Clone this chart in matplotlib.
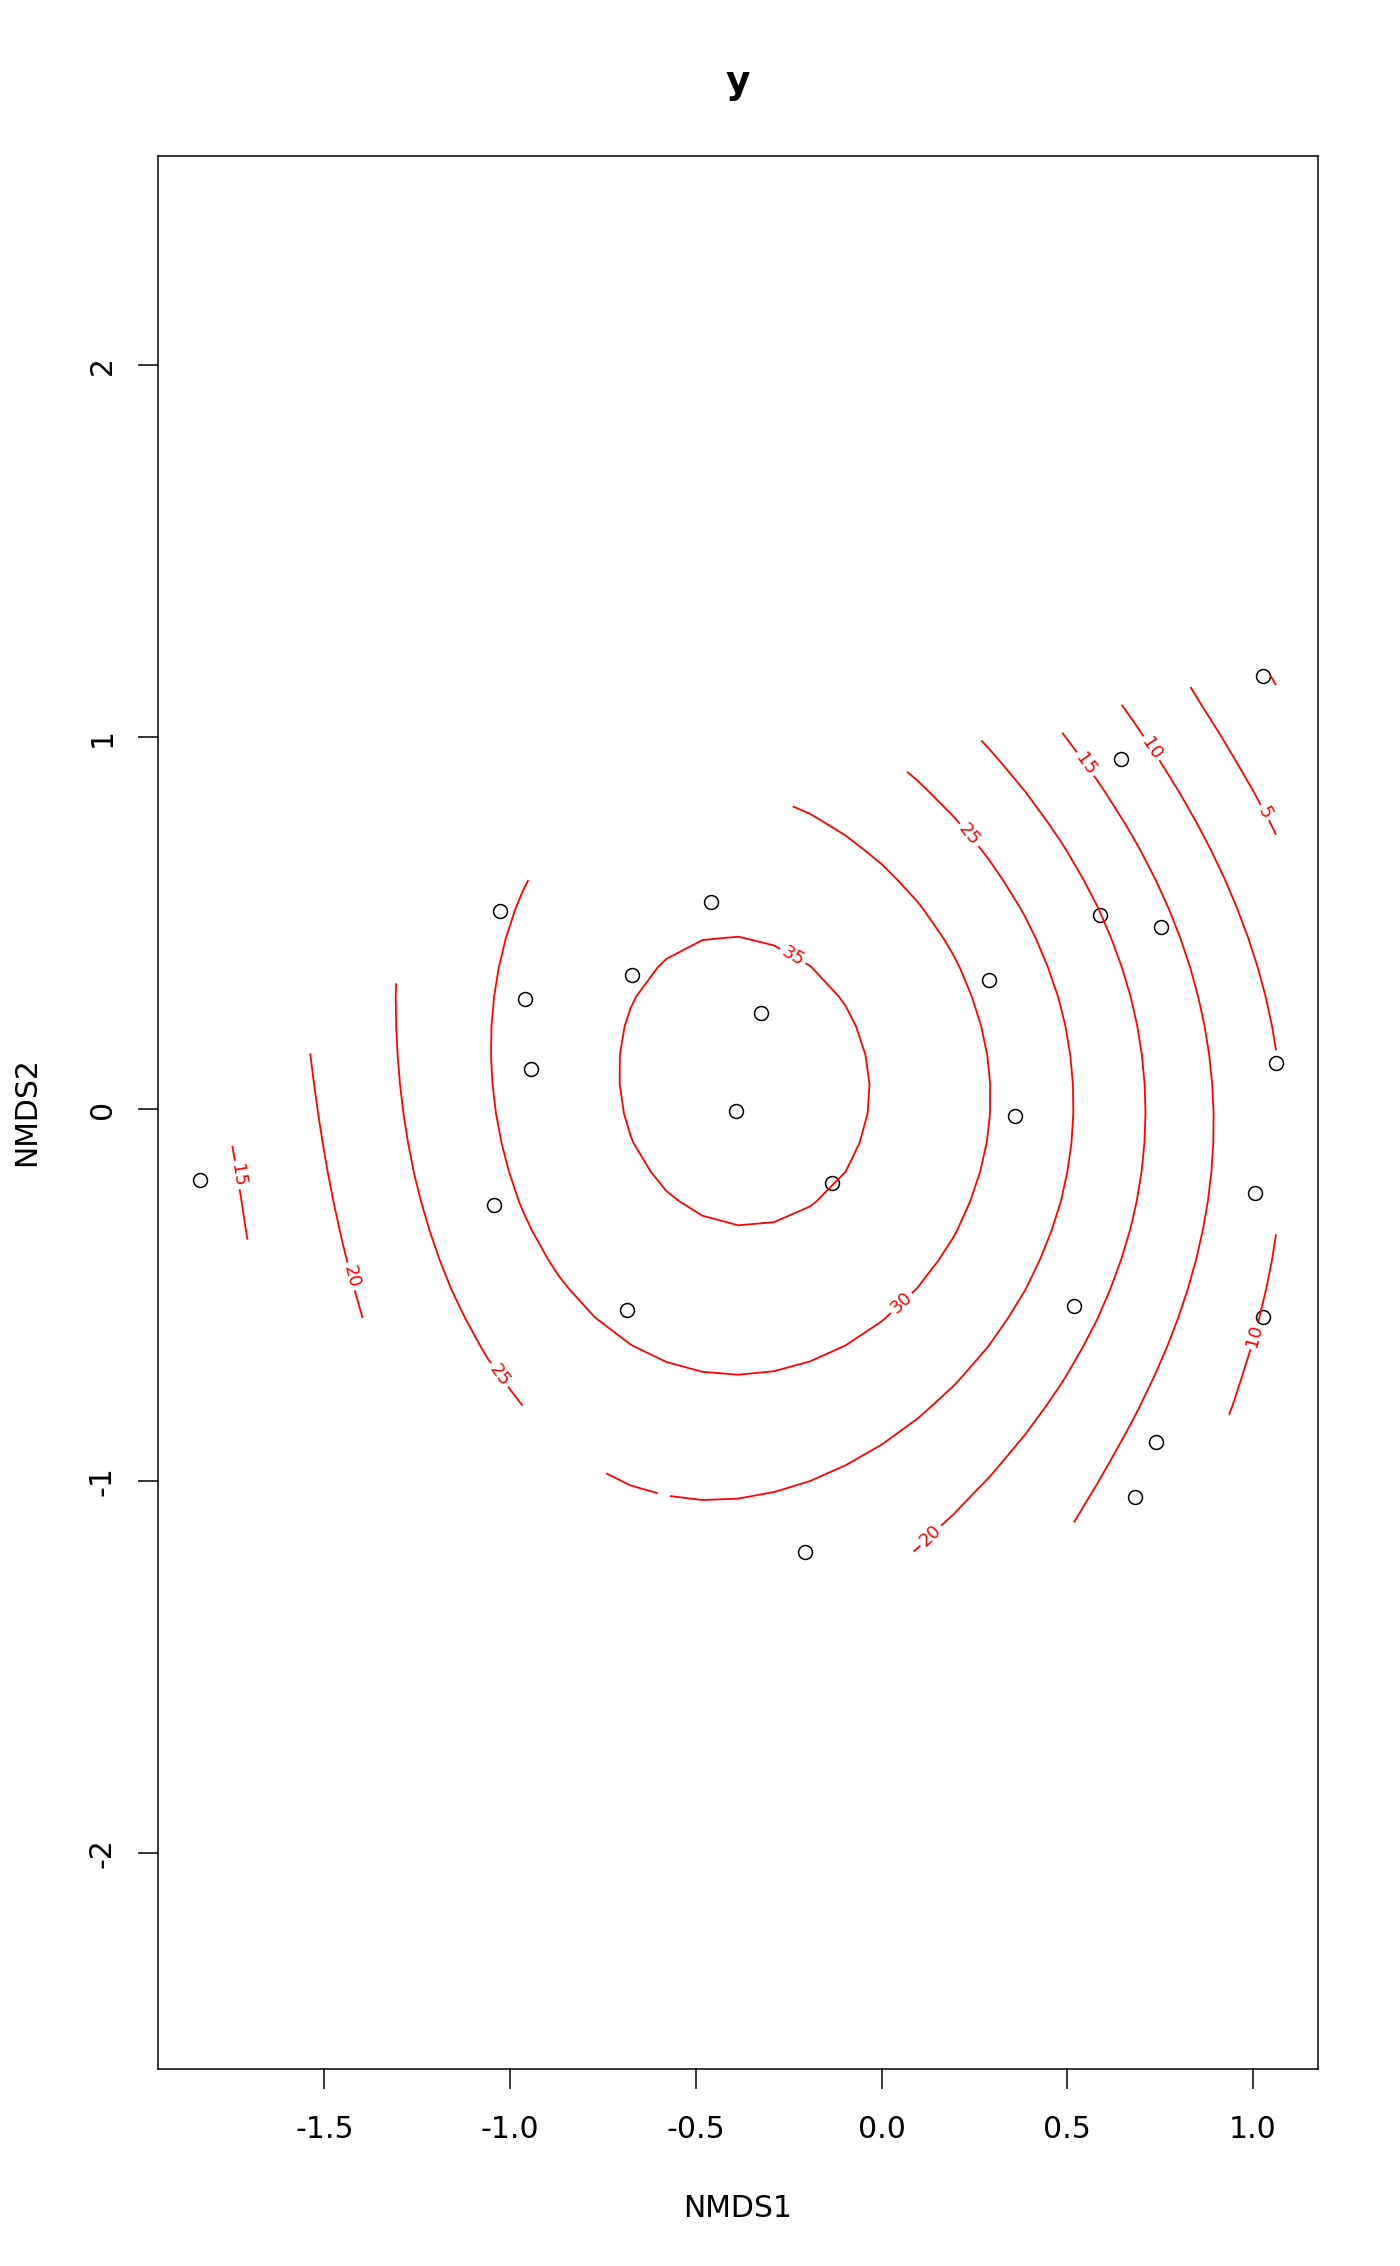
import numpy as np
import matplotlib
matplotlib.use('Agg')
import matplotlib.pyplot as plt

plt.rcParams['font.family'] = ['DejaVu Sans']

# site scores (NMDS1, NMDS2)
nmds1 = [1.027, 0.644, 0.589, 0.751, 1.062, 1.005, 1.028, 0.739, 0.683, 0.519, 0.359, 0.289,
         -0.133, -0.205, -0.393, -0.324, -0.460, -0.673, -0.961, -0.943, -1.026, -1.043, -0.685, -1.834]
nmds2 = [1.165, 0.941, 0.521, 0.490, 0.123, -0.227, -0.560, -0.896, -1.042, -0.531, -0.019, 0.347,
         -0.200, -1.190, -0.006, 0.259, 0.557, 0.361, 0.295, 0.107, 0.532, -0.259, -0.541, -0.192]

# points, one list per level
lev35 = [(-0.386, 0.477), (-0.480, 0.472), (-0.576, 0.424), (-0.673, 0.303), (-0.706, 0.140),
         (-0.689, -0.014), (-0.620, -0.158), (-0.480, -0.285), (-0.386, -0.314), (-0.192, -0.273),
         (-0.081, -0.177), (-0.020, -0.014), (-0.018, 0.063), (-0.028, 0.144), (-0.096, 0.303),
         (-0.192, 0.394), (-0.288, 0.456)]
lev30 = [(-0.942, 0.617), (-1.014, 0.466), (-1.043, 0.216), (-1.033, 0.005), (-0.966, -0.245),
         (-0.870, -0.441), (-0.774, -0.561), (-0.673, -0.638), (-0.578, -0.681), (-0.386, -0.710),
         (-0.197, -0.667), (0.015, -0.552), (0.145, -0.406), (0.199, -0.330), (0.238, -0.245),
         (0.267, -0.164), (0.293, -0.021), (0.297, 0.051), (0.289, 0.141), (0.272, 0.226),
         (0.245, 0.311), (0.194, 0.418), (0.101, 0.548), (-0.002, 0.653), (-0.095, 0.728),
         (-0.193, 0.786), (-0.244, 0.811)]
lev25 = [(0.067, 0.907), (0.096, 0.884), (0.203, 0.770), (0.268, 0.692), (0.331, 0.589),
         (0.409, 0.463), (0.448, 0.383), (0.473, 0.311), (0.495, 0.203), (0.509, 0.069),
         (0.507, -0.110), (0.489, -0.227), (0.458, -0.325), (0.385, -0.487), (0.292, -0.634),
         (0.194, -0.742), (0.101, -0.832), (-0.002, -0.908), (-0.095, -0.960), (-0.193, -1.002),
         (-0.290, -1.029), (-0.386, -1.045), (-0.480, -1.048), (-0.574, -1.038), (-0.673, -1.011),
         (-0.736, -0.982), (-1.311, 0.336), (-1.307, 0.159), (-1.287, -0.003), (-1.260, -0.155),
         (-1.215, -0.334), (-1.161, -0.487), (-1.062, -0.679), (-0.977, -0.796)]
lev20 = [(0.272, 0.994), (0.389, 0.849), (0.492, 0.696), (0.571, 0.553), (0.624, 0.445),
         (0.664, 0.338), (0.688, 0.221), (0.703, 0.069), (0.705, -0.110), (0.688, -0.245),
         (0.654, -0.397), (0.585, -0.567), (0.497, -0.720), (0.389, -0.881), (0.292, -0.997),
         (0.194, -1.096), (0.076, -1.190), (-1.544, 0.139), (-1.439, -0.404), (-1.404, -0.563)]
lev15 = [(0.492, 1.017), (0.580, 0.884), (0.683, 0.714), (0.770, 0.553), (0.820, 0.427),
         (0.859, 0.284), (0.881, 0.159), (0.891, -0.003), (0.891, -0.110), (0.877, -0.200),
         (0.849, -0.379), (0.801, -0.558), (0.732, -0.737), (0.644, -0.899), (0.512, -1.112),
         (-1.745, -0.097), (-1.701, -0.357)]
lev10 = [(0.658, 1.086), (0.757, 0.925), (0.879, 0.705), (0.967, 0.526), (1.016, 0.383),
         (1.045, 0.266), (1.062, 0.166), (1.063, -0.334), (1.026, -0.540), (0.987, -0.657),
         (0.928, -0.827)]
lev5 = [(0.836, 1.140), (1.011, 0.840), (1.062, 0.745)]
lev0 = [(1.035, 1.167), (1.062, 1.122)]
peak = (-0.362, 0.080, 36.9)

levels = [0, 5, 10, 15, 20, 25, 30, 35]
label_pos = [(-0.235, 0.418), (0.050, -0.518), (0.230, 0.732), (-1.036, -0.720),
             (-1.431, -0.451), (0.135, -1.150), (0.551, 0.929), (-1.731, -0.177),
             (0.727, 0.970), (1.000, -0.608), (1.028, 0.795)]


def basis(x, y):
    return np.column_stack([x ** i * y ** j for i in range(5) for j in range(5 - i)])


# smooth surface through the traced contour points
tx, ty, tz = [], [], []
for lev, pts in zip(levels, [lev0, lev5, lev10, lev15, lev20, lev25, lev30, lev35]):
    for px, py in pts:
        tx.append(px)
        ty.append(py)
        tz.append(lev)
tx.append(peak[0]); ty.append(peak[1]); tz.append(peak[2])
coef, *_ = np.linalg.lstsq(basis(np.array(tx), np.array(ty)), np.array(tz), rcond=None)

gx = np.linspace(min(nmds1), max(nmds1), 31)
gy = np.linspace(min(nmds2), max(nmds2), 31)
GX, GY = np.meshgrid(gx, gy)
Z = (basis(GX.ravel(), GY.ravel()) @ coef).reshape(GX.shape)

# keep only the part near the convex hull of the sites
pts = sorted(zip(nmds1, nmds2))
def half(seq):
    h = []
    for p in seq:
        while len(h) >= 2 and ((h[-1][0] - h[-2][0]) * (p[1] - h[-2][1]) -
                               (h[-1][1] - h[-2][1]) * (p[0] - h[-2][0])) <= 0:
            h.pop()
        h.append(p)
    return h
hull = half(pts)[:-1] + half(pts[::-1])[:-1]
dist = np.full(GX.shape, -np.inf)
for k in range(len(hull)):
    (x0, y0), (x1, y1) = hull[k], hull[(k + 1) % len(hull)]
    ex, ey = x1 - x0, y1 - y0
    n = np.hypot(ex, ey)
    ang = np.degrees(np.arctan2(-ex, ey))
    if ang < -100:
        pad = 0.12
    elif ang > 120:
        pad = 0.06
    elif ang > 90:
        pad = 0.07
    elif -60 < ang < -10:
        pad = 0.13
    else:
        pad = 0.09
    dist = np.maximum(dist, ((GX - x0) * ey - (GY - y0) * ex) / n - pad)
Zm = np.ma.masked_where(dist > 0, Z)

fig = plt.figure(figsize=(14, 22.66), dpi=100)
ax = fig.add_axes([157.6 / 1400, 1 - 2069 / 2266, (1318 - 157.6) / 1400, (2069 - 156) / 2266])
ax.set_xlim(-1.949, 1.175)
ax.set_ylim(-2.581, 2.562)

ax.plot(nmds1, nmds2, 'o', mfc='none', mec='black', ms=10, mew=1.1, ls='none')

cs = ax.contour(GX, GY, Zm, levels=levels, colors='red', linewidths=1.3)
ax.clabel(cs, levels=levels, manual=label_pos, inline=True, fontsize=13, fmt='%d',
          inline_spacing=3)

ax.set_xticks([-1.5, -1.0, -0.5, 0.0, 0.5, 1.0])
ax.set_xticklabels(['-1.5', '-1.0', '-0.5', '0.0', '0.5', '1.0'])
ax.set_yticks([-2, -1, 0, 1, 2])
ax.set_yticklabels(['-2', '-1', '0', '1', '2'])
ax.tick_params(length=14.4, width=1.1, labelsize=21.5, colors='black')
ax.tick_params(axis='x', pad=19)
ax.tick_params(axis='y', pad=15, labelrotation=90)
for lbl in ax.get_yticklabels():
    lbl.set_va('center')
for s in ax.spines.values():
    s.set_linewidth(1.1)

fig.text(738 / 1400, 1 - 93 / 2266, 'y', fontsize=27, fontweight='bold', ha='center', va='baseline')
fig.text(738 / 1400, 1 - 2217 / 2266, 'NMDS1', fontsize=21.5, ha='center', va='baseline')
fig.text(35 / 1400, 1 - 1112 / 2266, 'NMDS2', fontsize=21.5, ha='center', va='baseline',
         rotation=90, rotation_mode='anchor')

fig.savefig('out.png', dpi=100)
